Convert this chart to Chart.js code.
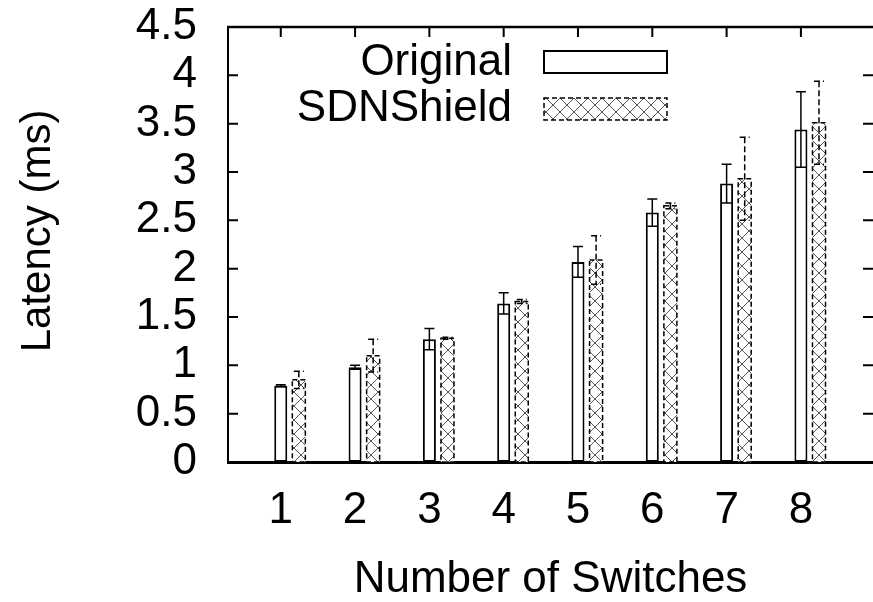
<!DOCTYPE html>
<html>
<head>
<meta charset="utf-8">
<script src="https://cdn.jsdelivr.net/npm/chart.js@4.4.0/dist/chart.umd.min.js"></script>
<style>
  html, body { margin: 0; padding: 0; background: #fff; }
  #wrap { width: 873px; height: 602px; }
</style>
</head>
<body>
<div id="wrap"><canvas id="latencyChart" width="873" height="602"></canvas></div>
<script>
'use strict';

// values
const switchCounts = [1, 2, 3, 4, 5, 6, 7, 8];
const originalLatency = [0.79, 0.98, 1.27, 1.64, 2.07, 2.58, 2.88, 3.44];
const originalError = [0.01, 0.02, 0.11, 0.11, 0.16, 0.14, 0.20, 0.39];
const shieldLatency = [0.85, 1.10, 1.28, 1.66, 2.09, 2.65, 2.93, 3.51];
const shieldError = [0.09, 0.17, 0.01, 0.02, 0.25, 0.03, 0.43, 0.43];
const yTickValues = [0, 0.5, 1, 1.5, 2, 2.5, 3, 3.5, 4, 4.5];
const seriesNames = ['Original', 'SDNShield'];
const yTitle = 'Latency (ms)';

const FONT = "'Liberation Sans', Arial, sans-serif";

function makeHatch() {
  const c = document.createElement('canvas');
  c.width = 14;
  c.height = 14;
  const g = c.getContext('2d');
  g.fillStyle = '#fff';
  g.fillRect(0, 0, 14, 14);
  g.strokeStyle = '#555';
  g.lineWidth = 1;
  g.beginPath();
  g.moveTo(0, 0); g.lineTo(14, 14);
  g.moveTo(14, 0); g.lineTo(0, 14);
  g.stroke();
  return g.createPattern(c, 'repeat');
}
const hatch = makeHatch();

function points(values) {
  return switchCounts.map((x, i) => ({ x: x, y: values ? values[i] : null }));
}

// gnuplot style frame: inward ticks, top line, y title
const framePlugin = {
  id: 'frame',
  beforeDatasetsDraw(chart) {
    const ctx = chart.ctx;
    const a = chart.chartArea;
    const xs = chart.scales.x;
    const ys = chart.scales.y;
    ctx.save();
    ctx.strokeStyle = '#000';
    ctx.lineWidth = 2;
    ctx.beginPath();
    yTickValues.forEach(v => {
      const y = ys.getPixelForValue(v);
      ctx.moveTo(a.left, y); ctx.lineTo(a.left + 10, y);
      ctx.moveTo(a.right, y); ctx.lineTo(a.right - 10, y);
    });
    switchCounts.forEach(v => {
      const x = xs.getPixelForValue(v);
      ctx.moveTo(x, a.top); ctx.lineTo(x, a.top + 10);
    });
    ctx.stroke();
    ctx.lineWidth = 2.5;
    ctx.beginPath();
    ctx.moveTo(a.left - 1, a.top);
    ctx.lineTo(a.right, a.top);
    ctx.stroke();

    ctx.translate(38, 231);
    ctx.rotate(-Math.PI / 2);
    ctx.font = '42px ' + FONT;
    ctx.fillStyle = '#000';
    ctx.textAlign = 'center';
    ctx.textBaseline = 'middle';
    ctx.fillText(yTitle, 0, 0);
    ctx.restore();
  }
};

function drawErrors(ctx, meta, values, errors, ys, dashed) {
  ctx.setLineDash(dashed ? [6, 3] : []);
  meta.data.forEach((el, i) => {
    const top = ys.getPixelForValue(values[i] + errors[i]);
    const bot = ys.getPixelForValue(values[i] - errors[i]);
    ctx.beginPath();
    ctx.moveTo(el.x, top); ctx.lineTo(el.x, bot);
    ctx.moveTo(el.x - 5, top); ctx.lineTo(el.x + 5, top);
    ctx.moveTo(el.x - 5, bot); ctx.lineTo(el.x + 5, bot);
    ctx.stroke();
  });
  ctx.setLineDash([]);
}

const barExtras = {
  id: 'barExtras',
  afterDatasetsDraw(chart) {
    const ctx = chart.ctx;
    const ys = chart.scales.y;
    const shieldMeta = chart.getDatasetMeta(2);
    ctx.save();
    ctx.strokeStyle = '#000';
    ctx.lineWidth = 1.5;
    // dashed outline of the hatched bars
    ctx.setLineDash([5, 3]);
    shieldMeta.data.forEach(el => {
      const p = el.getProps(['x', 'y', 'base', 'width'], true);
      ctx.strokeRect(p.x - p.width / 2, p.y, p.width, p.base - p.y);
    });
    ctx.setLineDash([]);
    drawErrors(ctx, chart.getDatasetMeta(1), originalLatency, originalError, ys, false);
    drawErrors(ctx, shieldMeta, shieldLatency, shieldError, ys, true);

    // key
    ctx.font = '44px ' + FONT;
    ctx.fillStyle = '#000';
    ctx.textAlign = 'right';
    ctx.textBaseline = 'alphabetic';
    ctx.fillText(seriesNames[0], 512, 75);
    ctx.fillText(seriesNames[1], 512, 121);
    ctx.lineWidth = 2;
    ctx.fillStyle = '#fff';
    ctx.fillRect(544, 51, 123, 22);
    ctx.strokeRect(544, 51, 123, 22);
    ctx.fillStyle = hatch;
    ctx.fillRect(544, 98, 123, 22);
    ctx.lineWidth = 1.5;
    ctx.setLineDash([5, 3]);
    ctx.strokeRect(544, 98, 123, 22);
    ctx.restore();
  }
};

const ctx = document.getElementById('latencyChart').getContext('2d');
new Chart(ctx, {
  type: 'bar',
  data: {
    datasets: [{
      label: '',
      data: points(null)
    }, {
      label: seriesNames[0],
      data: points(originalLatency),
      backgroundColor: '#fff',
      borderColor: '#000',
      borderWidth: 2,
      borderSkipped: false
    }, {
      label: seriesNames[1],
      data: points(shieldLatency),
      backgroundColor: hatch,
      borderWidth: 0
    }]
  },
  options: {
    responsive: false,
    animation: false,
    categoryPercentage: 0.73,
    barPercentage: 0.72,
    layout: { padding: { top: 27, left: 0, right: 0, bottom: 0 } },
    plugins: {
      legend: { display: false },
      tooltip: { enabled: false }
    },
    scales: {
      x: {
        type: 'linear',
        offset: false,
        min: 0.29,
        max: 8.97,
        afterBuildTicks: s => { s.ticks = switchCounts.map(v => ({ value: v })); },
        afterFit: s => { s.height = 140; s.paddingLeft = 0; s.paddingRight = 0; },
        grid: { display: false, drawTicks: false, offset: false },
        border: { display: true, color: '#000', width: 3 },
        ticks: {
          padding: 22,
          autoSkip: false,
          maxRotation: 0,
          color: '#000',
          font: { family: FONT, size: 44 },
          callback: v => String(v)
        },
        title: {
          display: true,
          text: 'Number of Switches',
          color: '#000',
          font: { family: FONT, size: 44, lineHeight: 1 },
          padding: { top: 0, bottom: 0 }
        }
      },
      y: {
        min: 0,
        max: 4.5,
        afterBuildTicks: s => { s.ticks = yTickValues.map(v => ({ value: v })); },
        afterFit: s => { s.width = 228; s.paddingTop = 0; s.paddingBottom = 0; },
        grid: { display: false, drawTicks: false },
        border: { display: true, color: '#000', width: 2 },
        ticks: {
          padding: 31,
          autoSkip: false,
          color: '#000',
          font: { family: FONT, size: 44 },
          callback: v => String(v)
        }
      }
    }
  },
  plugins: [framePlugin, barExtras]
});
</script>
</body>
</html>
